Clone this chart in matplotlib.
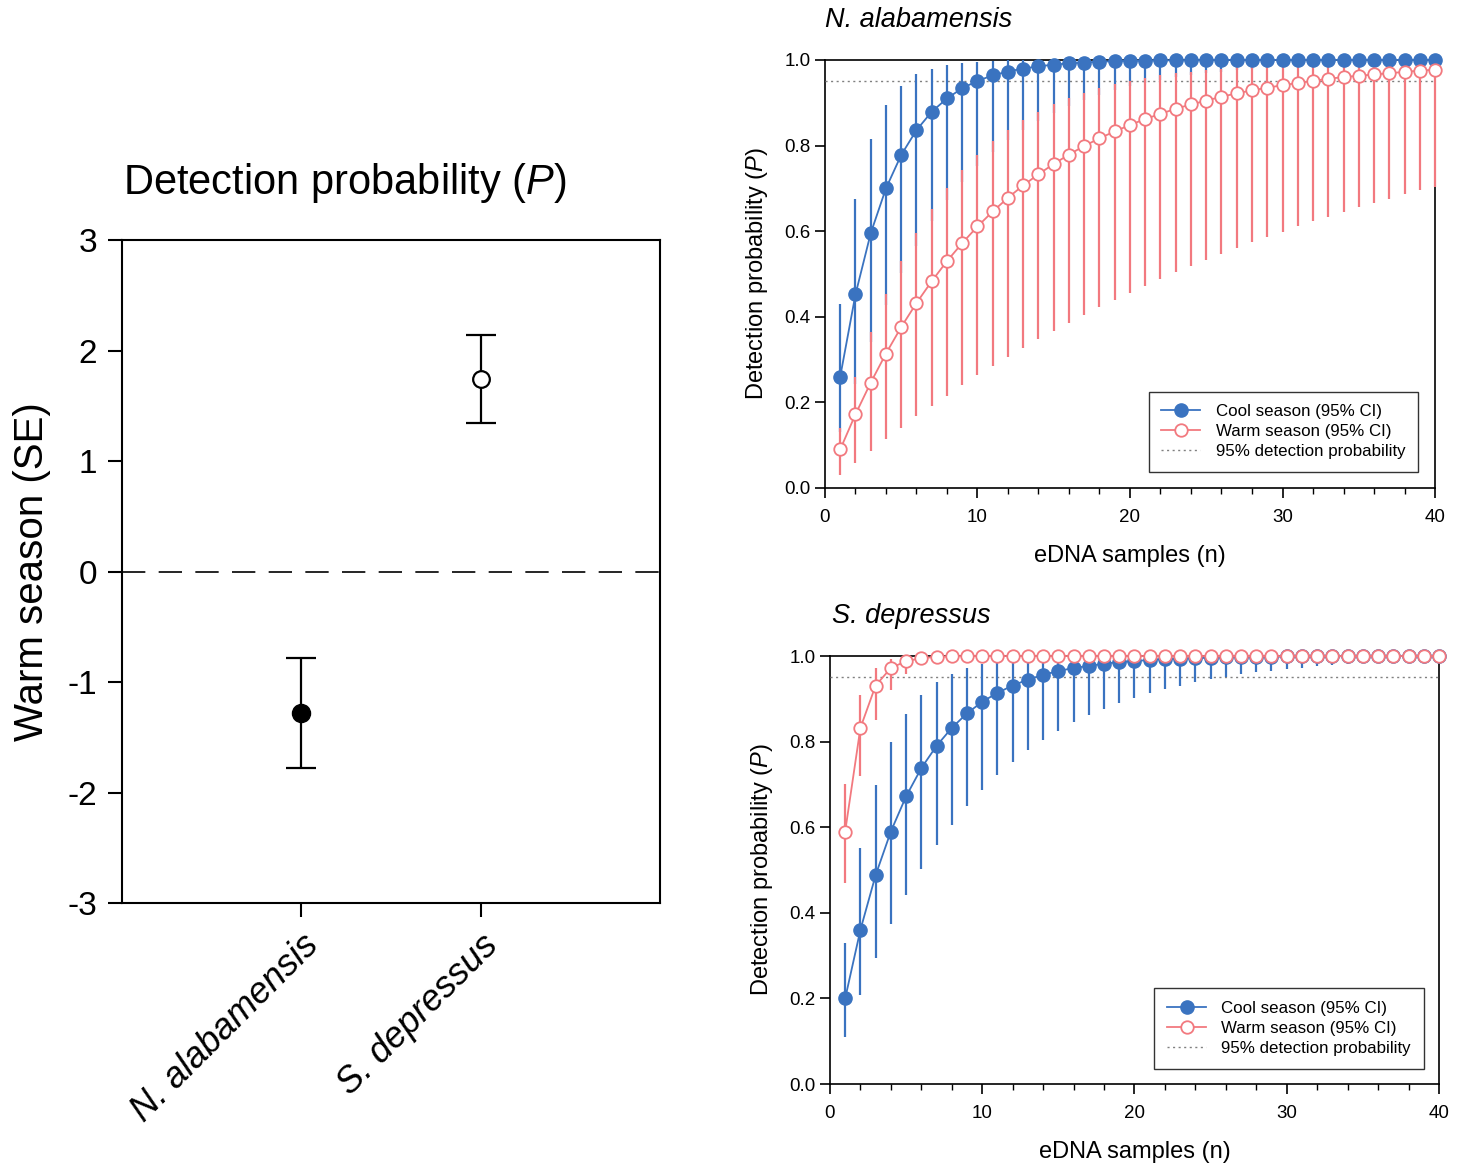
import numpy as np
import matplotlib.pyplot as plt

plt.rcParams['font.family'] = ['Liberation Sans', 'DejaVu Sans']
plt.rcParams['mathtext.fontset'] = 'custom'
plt.rcParams['mathtext.rm'] = 'Liberation Sans'
plt.rcParams['mathtext.it'] = 'Liberation Sans:italic'
plt.rcParams['axes.unicode_minus'] = False

# left panel: warm season effect (SE)
species = ['N. alabamensis', 'S. depressus']
effect = [-1.28, 1.74]
effect_se = [0.50, 0.40]

# right panels: cumulative detection probability vs number of eDNA samples
n_samples = list(range(1, 41))

# N. alabamensis
na_cool = [0.260, 0.452, 0.595, 0.700, 0.778, 0.836, 0.879, 0.910, 0.934, 0.951,
           0.964, 0.973, 0.980, 0.985, 0.989, 0.992, 0.994, 0.996, 0.997, 0.998,
           0.998, 0.999, 0.999, 0.999] + [1.000] * 16
na_cool_hi = [0.430, 0.675, 0.815, 0.894, 0.940, 0.966, 0.980, 0.989, 0.994, 0.996,
              0.998, 0.999, 0.999] + [1.000] * 27
na_cool_lo = [0.130, 0.243, 0.342, 0.427, 0.502, 0.566, 0.623, 0.672, 0.715, 0.752,
              0.784, 0.812, 0.836, 0.858, 0.876, 0.892, 0.906, 0.918, 0.929, 0.938,
              0.946, 0.953, 0.959, 0.965, 0.969, 0.973, 0.977, 0.980, 0.982, 0.985,
              0.987, 0.988, 0.990, 0.991, 0.992, 0.993, 0.994, 0.995, 0.996, 0.996]
na_warm = [0.090, 0.172, 0.246, 0.314, 0.376, 0.432, 0.483, 0.530, 0.572, 0.611,
           0.646, 0.678, 0.707, 0.733, 0.757, 0.779, 0.799, 0.817, 0.833, 0.848,
           0.862, 0.874, 0.886, 0.896, 0.905, 0.914, 0.922, 0.929, 0.935, 0.941,
           0.946, 0.951, 0.956, 0.960, 0.963, 0.966, 0.969, 0.972, 0.975, 0.977]
na_warm_hi = [0.140, 0.260, 0.364, 0.453, 0.530, 0.595, 0.652, 0.701, 0.743, 0.779,
              0.810, 0.836, 0.859, 0.879, 0.896, 0.910, 0.923, 0.934, 0.943, 0.951,
              0.958, 0.964, 0.969, 0.973, 0.977, 0.980, 0.983, 0.985, 0.987, 0.989,
              0.991, 0.992, 0.993, 0.994, 0.995, 0.996, 0.996, 0.997, 0.997, 0.998]
na_warm_lo = [0.030, 0.059, 0.087, 0.115, 0.141, 0.167, 0.192, 0.216, 0.240, 0.263,
              0.285, 0.306, 0.327, 0.347, 0.367, 0.386, 0.404, 0.422, 0.439, 0.456,
              0.473, 0.488, 0.504, 0.519, 0.533, 0.547, 0.561, 0.574, 0.587, 0.599,
              0.611, 0.623, 0.634, 0.645, 0.656, 0.666, 0.676, 0.686, 0.695, 0.704]

# S. depressus
sd_cool = [0.200, 0.360, 0.488, 0.590, 0.672, 0.738, 0.790, 0.832, 0.866, 0.893,
           0.914, 0.931, 0.945, 0.956, 0.965, 0.972, 0.977, 0.982, 0.986, 0.988,
           0.991, 0.993, 0.994, 0.995, 0.996, 0.997, 0.998, 0.998, 0.998, 0.999,
           0.999, 0.999, 0.999] + [1.000] * 7
sd_cool_hi = [0.330, 0.551, 0.699, 0.798, 0.865, 0.910, 0.939, 0.959, 0.973, 0.982,
              0.988, 0.992, 0.995, 0.996, 0.998, 0.998, 0.999, 0.999] + [1.000] * 22
sd_cool_lo = [0.110, 0.208, 0.295, 0.373, 0.442, 0.503, 0.558, 0.606, 0.650, 0.688,
              0.722, 0.753, 0.780, 0.804, 0.826, 0.845, 0.862, 0.877, 0.891, 0.903,
              0.913, 0.923, 0.931, 0.939, 0.946, 0.952, 0.957, 0.962, 0.966, 0.970,
              0.973, 0.976, 0.979, 0.981, 0.983, 0.985, 0.987, 0.988, 0.989, 0.990]
sd_warm = [0.590, 0.832, 0.931, 0.972, 0.988, 0.995, 0.998, 0.999] + [1.000] * 32
sd_warm_hi = [0.700, 0.910, 0.973, 0.992, 0.998, 0.999] + [1.000] * 34
sd_warm_lo = [0.470, 0.719, 0.851, 0.921, 0.958, 0.978, 0.988, 0.994, 0.997, 0.998,
              0.999] + [1.000] * 29

blue = '#3a73c0'
pink = '#f2797f'

fig = plt.figure(figsize=(14.64, 11.64), dpi=100)

# ---- left panel
ax = fig.add_axes([0.0833, 0.2242, 0.3675, 0.5696])
xpos = [1, 2]
ax.errorbar(xpos[0], effect[0], yerr=effect_se[0], fmt='o', color='black', ms=13,
            capsize=11, elinewidth=1.6, capthick=1.6)
ax.errorbar(xpos[1], effect[1], yerr=effect_se[1], fmt='o', color='black', mfc='white',
            mec='black', mew=1.6, ms=12, capsize=11, elinewidth=1.6, capthick=1.6)
ax.axhline(0, color='black', lw=1.2, ls=(0, (14, 8)))
ax.set_xlim(0, 3)
ax.set_ylim(-3, 3)
ax.set_yticks([-3, -2, -1, 0, 1, 2, 3])
ax.set_xticks(xpos)
ax.set_xticklabels(species, rotation=45, ha='right', va='top', rotation_mode='anchor',
                   style='italic', fontsize=26)
ax.tick_params(axis='y', labelsize=24, direction='out', length=10, width=1.5, pad=8)
ax.tick_params(axis='x', direction='out', length=10, width=1.5, pad=8)
for s in ax.spines.values():
    s.set_linewidth(1.5)
ax.set_ylabel('Warm season (SE)', fontsize=29, labelpad=12)
ax.text(0.414, 1.086, 'Detection probability ($\\mathit{P}$)', transform=ax.transAxes,
        ha='center', va='center', fontsize=30)


def prob_panel(rect, title, cool, cool_lo, cool_hi, warm, warm_lo, warm_hi,
               title_x, leg_anchor):
    a = fig.add_axes(rect)
    a.vlines(n_samples, cool_lo, cool_hi, color=blue, lw=1.6, zorder=2, clip_on=False)
    a.vlines(n_samples, warm_lo, warm_hi, color=pink, lw=1.6, zorder=3, clip_on=False)
    a.axhline(0.95, color='#808080', lw=1.0, ls=(0, (1.5, 2.5)), zorder=1)
    a.plot(n_samples, cool, '-o', color=blue, ms=9.5, lw=1.3, zorder=4, clip_on=False,
           label='Cool season (95% CI)')
    a.plot(n_samples, warm, '-o', color=pink, mfc='white', mec=pink, mew=1.3, ms=9,
           lw=1.3, zorder=5, clip_on=False, label='Warm season (95% CI)')
    a.plot([], [], color='#808080', lw=1.0, ls=(0, (1.5, 2.5)),
           label='95% detection probability')
    a.set_xlim(0, 40)
    a.set_ylim(0, 1)
    a.set_xticks([0, 10, 20, 30, 40])
    a.set_xticks(np.arange(0, 41, 2), minor=True)
    a.set_yticks([0, 0.2, 0.4, 0.6, 0.8, 1.0])
    a.set_yticklabels(['0.0', '0.2', '0.4', '0.6', '0.8', '1.0'])
    a.tick_params(which='major', labelsize=13.5, direction='out', length=7, width=1.2)
    a.tick_params(axis='x', which='major', pad=8)
    a.tick_params(which='minor', direction='out', length=4, width=1.0)
    for s in a.spines.values():
        s.set_linewidth(1.2)
        s.set_zorder(0)
    a.set_xlabel('eDNA samples (n)', fontsize=17, labelpad=14)
    a.set_ylabel('Detection probability ($\\mathit{P}$)', fontsize=17, labelpad=10)
    a.text(title_x, 1.093, title, transform=a.transAxes, ha='left', va='center',
           fontsize=19.5, style='italic')
    leg = a.legend(loc='lower right', bbox_to_anchor=leg_anchor, borderaxespad=0,
                   fontsize=12.2, frameon=True, fancybox=False, edgecolor='black',
                   borderpad=0.75, handlelength=2.3, handletextpad=0.9,
                   labelspacing=0.3)
    leg.get_frame().set_linewidth(1.0)
    return a


prob_panel([0.5635, 0.5808, 0.4167, 0.3677], 'N. alabamensis',
           na_cool, na_cool_lo, na_cool_hi, na_warm, na_warm_lo, na_warm_hi,
           0.0, (0.972, 0.037))
prob_panel([0.5669, 0.0687, 0.4160, 0.3677], 'S. depressus',
           sd_cool, sd_cool_lo, sd_cool_hi, sd_warm, sd_warm_lo, sd_warm_hi,
           0.003, (0.975, 0.035))

fig.savefig('out.png', dpi=100)
